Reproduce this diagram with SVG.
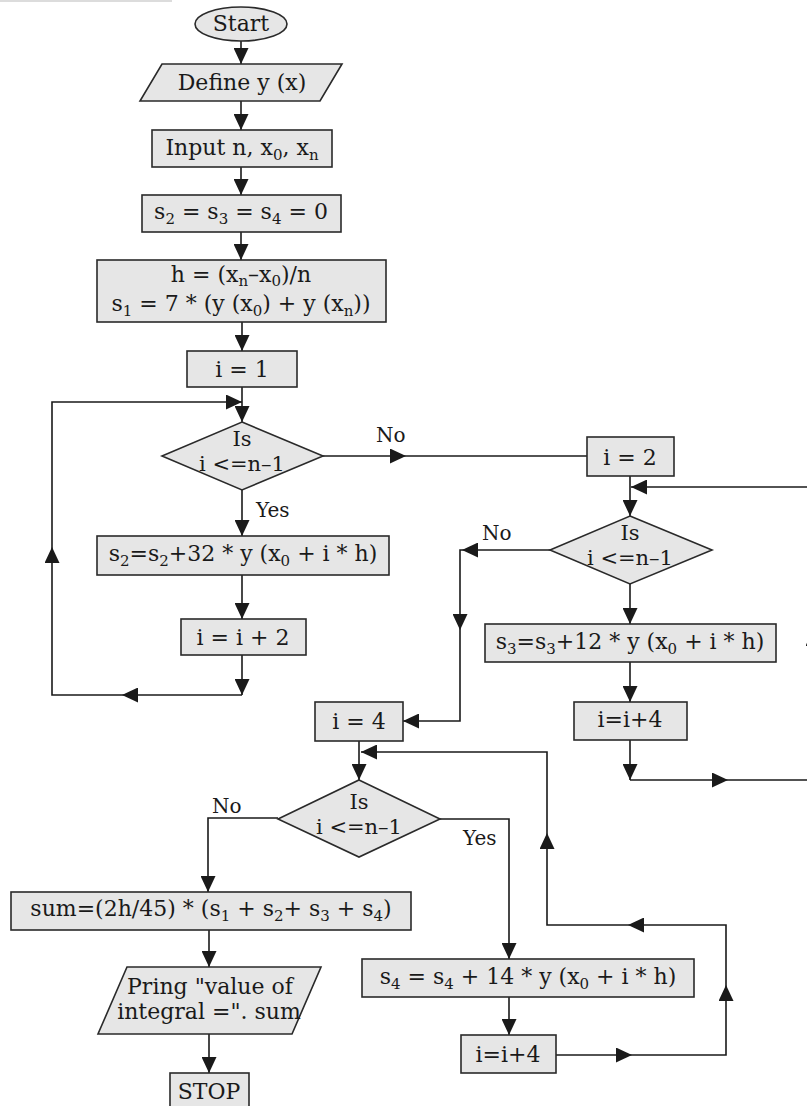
<svg xmlns="http://www.w3.org/2000/svg" width="807" height="1106" viewBox="0 0 807 1106">
  <style>
    .box { fill: #e6e6e6; stroke: #2a2a2a; stroke-width: 1.6; }
    .t { font-family: "DejaVu Serif", "Liberation Serif", serif; font-size: 22px; fill: #1a1a1a; text-anchor: middle; }
    .dt { font-family: "DejaVu Serif", "Liberation Serif", serif; font-size: 21px; fill: #1a1a1a; text-anchor: middle; }
    .lbl { font-family: "DejaVu Serif", "Liberation Serif", serif; font-size: 20px; fill: #1a1a1a; }
    .s { font-size: 15px; }
    .ln { fill: none; stroke: #1a1a1a; stroke-width: 1.6; }
    .ar { marker-end: url(#ah); }
  </style>
  <defs>
    <marker id="ah" markerUnits="userSpaceOnUse" markerWidth="16" markerHeight="15" viewBox="0 0 16 15" refX="16" refY="7.5" orient="auto">
      <path d="M0,0 L16,7.5 L0,15 Z" fill="#1a1a1a"/>
    </marker>
  </defs>

  <rect x="0" y="0" width="172" height="2" fill="#dcdcdc"/>

  <!-- connectors -->
  <g id="connectors">
    <path class="ln ar" d="M241,41 V64"/>
    <path class="ln ar" d="M241,101 V130"/>
    <path class="ln ar" d="M241,167 V195"/>
    <path class="ln ar" d="M241,232 V260"/>
    <path class="ln ar" d="M242,322 V351"/>
    <path class="ln ar" d="M242,387 V422"/>
    <!-- first loop -->
    <path class="ln ar" d="M242,490 V536"/>
    <path class="ln ar" d="M242,575 V619"/>
    <path class="ln ar" d="M242,655 V695"/>
    <path class="ln ar" d="M242,695 H122"/>
    <path class="ln ar" d="M122,695 H52 V547"/>
    <path class="ln ar" d="M52,547 V402 H242"/>
    <path class="ln ar" d="M323,456 H406"/>
    <path class="ln" d="M406,456 H587"/>
    <!-- second loop -->
    <path class="ln ar" d="M630,476 V516"/>
    <path class="ln ar" d="M807,487 H631"/>
    <path class="ln ar" d="M630,584 V624"/>
    <path class="ln ar" d="M630,662 V702"/>
    <path class="ln ar" d="M630,740 V780"/>
    <path class="ln ar" d="M630,780 H728"/>
    <path class="ln ar" d="M728,780 H813 V630"/>
    <path class="ln" d="M813,630 V487 H807"/>
    <path class="ln ar" d="M550,550 H462"/>
    <path class="ln ar" d="M462,550 H460 V630"/>
    <path class="ln ar" d="M460,630 V721 H403"/>
    <!-- third loop -->
    <path class="ln ar" d="M359,741 V780"/>
    <path class="ln ar" d="M440,819 H509 V959"/>
    <path class="ln ar" d="M509,997 V1035"/>
    <path class="ln ar" d="M556,1055 H632"/>
    <path class="ln ar" d="M632,1055 H726 V985"/>
    <path class="ln ar" d="M726,985 V925 H628"/>
    <path class="ln ar" d="M628,925 H547 V833"/>
    <path class="ln ar" d="M547,833 V752 H361"/>
    <!-- exit -->
    <path class="ln ar" d="M278,818 H208 V892"/>
    <path class="ln ar" d="M209,930 V967"/>
    <path class="ln ar" d="M209,1034 V1073"/>
    <!-- branch labels -->
    <text class="lbl" x="376" y="442">No</text>
    <text class="lbl" x="256" y="517">Yes</text>
    <text class="lbl" x="482" y="540">No</text>
    <text class="lbl" x="212" y="813">No</text>
    <text class="lbl" x="463" y="845">Yes</text>
  </g>

  <g id="start">
    <ellipse class="box" cx="241" cy="24" rx="46" ry="17"/>
    <text class="t" x="241" y="31">Start</text>
  </g>

  <g id="define">
    <polygon class="box" points="162,64 342,64 320,101 140,101"/>
    <text class="t" x="242" y="90">Define y (x)</text>
  </g>

  <g id="input">
    <rect class="box" x="152" y="130" width="180" height="37"/>
    <text class="t" x="242" y="155">Input n, x<tspan class="s" dy="5">0</tspan><tspan dy="-5">, x</tspan><tspan class="s" dy="5">n</tspan></text>
  </g>

  <g id="init-sums">
    <rect class="box" x="142" y="195" width="199" height="37"/>
    <text class="t" x="241" y="219">s<tspan class="s" dy="5">2</tspan><tspan dy="-5"> = s</tspan><tspan class="s" dy="5">3</tspan><tspan dy="-5"> = s</tspan><tspan class="s" dy="5">4</tspan><tspan dy="-5"> = 0</tspan></text>
  </g>

  <g id="step">
    <rect class="box" x="97" y="260" width="289" height="62"/>
    <text class="t" x="241" y="282">h = (x<tspan class="s" dy="4">n</tspan><tspan dy="-4">–x</tspan><tspan class="s" dy="4">0</tspan><tspan dy="-4">)/n</tspan></text>
    <text class="t" x="241" y="311">s<tspan class="s" dy="5">1</tspan><tspan dy="-5"> = 7 * (y (x</tspan><tspan class="s" dy="5">0</tspan><tspan dy="-5">) + y (x</tspan><tspan class="s" dy="5">n</tspan><tspan dy="-5">))</tspan></text>
  </g>

  <g id="i-1">
    <rect class="box" x="187" y="351" width="110" height="36"/>
    <text class="t" x="242" y="377">i = 1</text>
  </g>

  <g id="test-1">
    <polygon class="box" points="242,422 323,456 242,490 162,456"/>
    <text class="dt" x="242" y="446">Is</text>
    <text class="dt" x="242" y="471">i &lt;=n–1</text>
  </g>

  <g id="add-s2">
    <rect class="box" x="97" y="536" width="292" height="39"/>
    <text class="t" x="243" y="561">s<tspan class="s" dy="5">2</tspan><tspan dy="-5">=s</tspan><tspan class="s" dy="5">2</tspan><tspan dy="-5">+32 * y (x</tspan><tspan class="s" dy="5">0</tspan><tspan dy="-5"> + i * h)</tspan></text>
  </g>

  <g id="inc-2">
    <rect class="box" x="181" y="619" width="125" height="36"/>
    <text class="t" x="243" y="645">i = i + 2</text>
  </g>

  <g id="i-2">
    <rect class="box" x="587" y="437" width="87" height="39"/>
    <text class="t" x="630" y="465">i = 2</text>
  </g>

  <g id="test-2">
    <polygon class="box" points="630,516 712,550 630,584 550,550"/>
    <text class="dt" x="630" y="540">Is</text>
    <text class="dt" x="630" y="565">i &lt;=n–1</text>
  </g>

  <g id="add-s3">
    <rect class="box" x="485" y="624" width="291" height="38"/>
    <text class="t" x="630" y="649">s<tspan class="s" dy="5">3</tspan><tspan dy="-5">=s</tspan><tspan class="s" dy="5">3</tspan><tspan dy="-5">+12 * y (x</tspan><tspan class="s" dy="5">0</tspan><tspan dy="-5"> + i * h)</tspan></text>
  </g>

  <g id="inc-4a">
    <rect class="box" x="574" y="702" width="113" height="38"/>
    <text class="t" x="630" y="727">i=i+4</text>
  </g>

  <g id="i-4">
    <rect class="box" x="315" y="702" width="88" height="39"/>
    <text class="t" x="359" y="729">i = 4</text>
  </g>

  <g id="test-3">
    <polygon class="box" points="359,780 440,819 359,857 278,819"/>
    <text class="dt" x="359" y="809">Is</text>
    <text class="dt" x="359" y="834">i &lt;=n–1</text>
  </g>

  <g id="add-s4">
    <rect class="box" x="362" y="959" width="332" height="38"/>
    <text class="t" x="528" y="984">s<tspan class="s" dy="5">4</tspan><tspan dy="-5"> = s</tspan><tspan class="s" dy="5">4</tspan><tspan dy="-5"> + 14 * y (x</tspan><tspan class="s" dy="5">0</tspan><tspan dy="-5"> + i * h)</tspan></text>
  </g>

  <g id="inc-4b">
    <rect class="box" x="461" y="1035" width="95" height="38"/>
    <text class="t" x="508" y="1062">i=i+4</text>
  </g>

  <g id="sum">
    <rect class="box" x="11" y="892" width="400" height="38"/>
    <text class="t" x="211" y="916">sum=(2h/45) * (s<tspan class="s" dy="5">1</tspan><tspan dy="-5"> + s</tspan><tspan class="s" dy="5">2</tspan><tspan dy="-5">+ s</tspan><tspan class="s" dy="5">3</tspan><tspan dy="-5"> + s</tspan><tspan class="s" dy="5">4</tspan><tspan dy="-5">)</tspan></text>
  </g>

  <g id="print">
    <polygon class="box" points="127,967 321,967 292,1034 98,1034"/>
    <text class="t" x="210" y="994">Pring "value of</text>
    <text class="t" x="209" y="1019">integral =". sum</text>
  </g>

  <g id="stop">
    <rect class="box" x="170" y="1073" width="79" height="40"/>
    <text class="t" x="209" y="1099">STOP</text>
  </g>
</svg>
